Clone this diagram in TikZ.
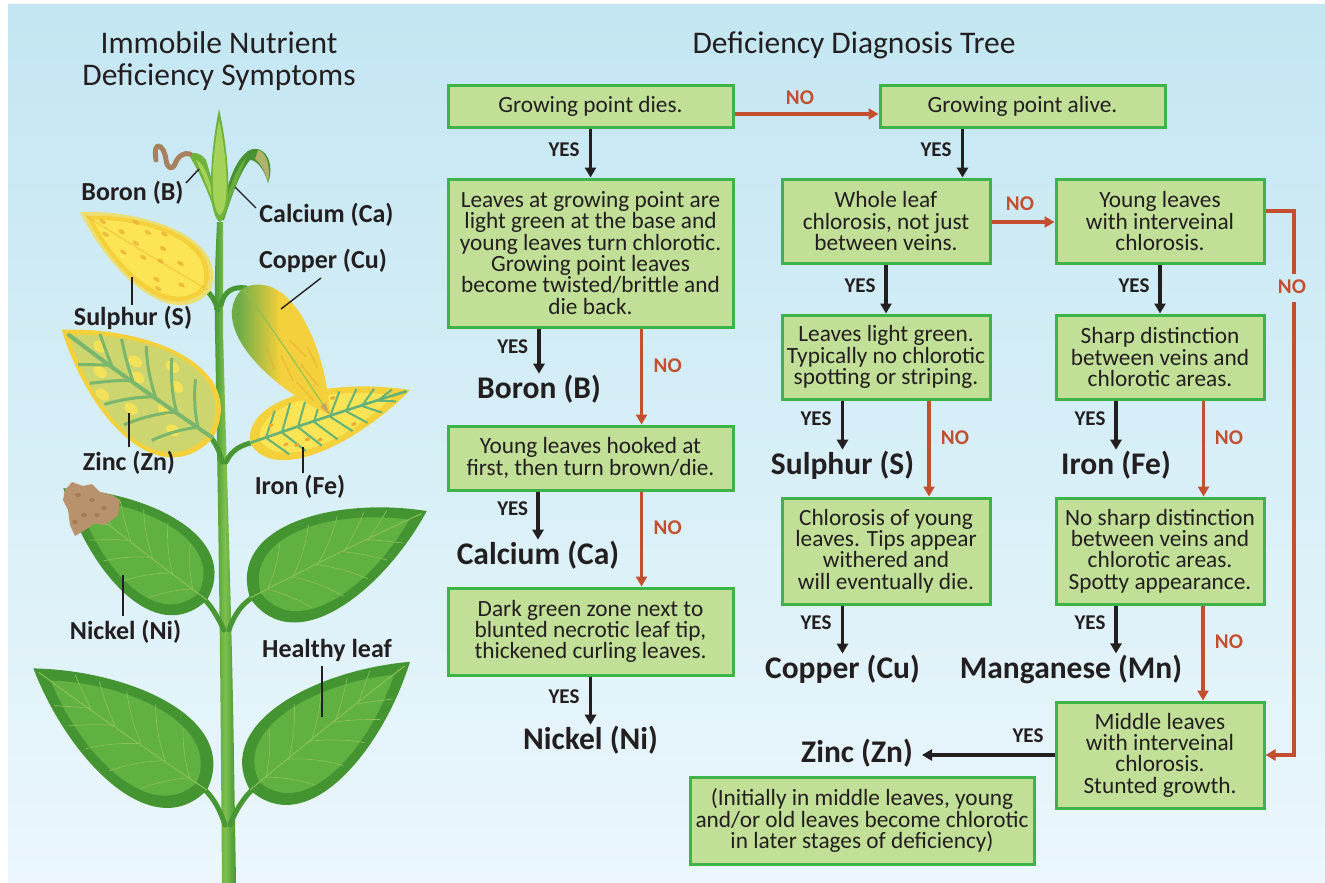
\documentclass[tikz,border=0pt]{standalone}
\usepackage{fontspec}
\setmainfont{Carlito}
\usetikzlibrary{arrows.meta,calc}

\definecolor{ink}{RGB}{35,31,32}
\definecolor{noclr}{RGB}{196,78,48}
\definecolor{boxfill}{RGB}{193,223,150}
\definecolor{boxline}{RGB}{60,180,74}
\definecolor{bgtop}{RGB}{195,230,242}
\definecolor{bgbot}{RGB}{235,247,252}
\definecolor{leafdk}{RGB}{68,148,50}
\definecolor{leafmd}{RGB}{96,176,66}
\definecolor{veinc}{RGB}{138,192,88}
\definecolor{stemdk}{RGB}{72,150,52}
\definecolor{stemlt}{RGB}{125,192,78}
\definecolor{ylw}{RGB}{244,208,58}
\definecolor{ylwlt}{RGB}{252,228,84}
\definecolor{ylwrim}{RGB}{236,222,112}
\definecolor{orng}{RGB}{232,172,52}
\definecolor{znvein}{RGB}{122,182,108}
\definecolor{znmid}{RGB}{205,214,110}
\definecolor{fevein}{RGB}{100,178,122}
\definecolor{mybrown}{RGB}{184,146,108}
\definecolor{mybrowndk}{RGB}{150,110,78}
\definecolor{ribbon}{RGB}{168,128,94}
\definecolor{tlgreen}{RGB}{110,180,58}
\definecolor{tllight}{RGB}{165,210,88}
\definecolor{cagreen}{RGB}{70,146,50}
\definecolor{calight}{RGB}{105,172,66}
\definecolor{catip}{RGB}{175,178,104}
\definecolor{cuG}{RGB}{110,172,72}
\definecolor{cuY}{RGB}{244,208,60}

\pgfdeclarehorizontalshading{cushade}{100bp}{color(0bp)=(cuG); color(38bp)=(cuG); color(55bp)=(cuY); color(100bp)=(cuY)}

\newcommand\leafOL{(0,0) .. controls (6,-46) and (62,-32) .. (100,0) .. controls (62,32) and (6,46) .. (0,0) -- cycle}
\newcommand\leafIN{(6,0) .. controls (12,-36) and (58,-26) .. (90,0) .. controls (58,26) and (12,36) .. (6,0) -- cycle}
\newcommand\leafMID{(3,0) .. controls (9,-42) and (60,-30) .. (95,0) .. controls (60,30) and (9,42) .. (3,0) -- cycle}
\newcommand\gveins{%
 \draw (10,0) .. controls (16,-6) and (22,-14) .. (26,-22);
 \draw (24,0) .. controls (31,-6) and (38,-15) .. (43,-24);
 \draw (38,0) .. controls (46,-6) and (53,-14) .. (58,-21);
 \draw (53,0) .. controls (60,-5) and (66,-11) .. (71,-16);
 \draw (67,0) .. controls (73,-4) and (78,-8) .. (82,-11);
}

\newcommand\boxfont{\fontsize{23.3}{21.3}\selectfont}
\newcommand\resfont{\fontsize{31.5}{34}\selectfont\bfseries}
\newcommand\labfont{\fontsize{21}{23}\selectfont\bfseries}
\newcommand\plfont{\fontsize{26}{28}\selectfont\bfseries}
\newcommand\ttlfont{\fontsize{31.5}{31.7}\selectfont}

\tikzset{
  pics/gleaf/.style={code={
    \fill[leafdk] \leafOL;
    \fill[leafmd] \leafIN;
    \begin{scope}[veinc, line width=0.7pt]
      \draw[line width=1pt] (0,0) .. controls (35,-1) and (70,-1) .. (97,0);
      \foreach \s in {1,-1}{\begin{scope}[yscale=\s]\gveins\end{scope}}
    \end{scope}
  }},
  pics/yleaf/.style={code={
    \fill[ylwrim] \leafOL;
    \fill[ylw] \leafMID;
    \fill[ylwlt] \leafIN;
    \foreach \p in {(18,-8),(26,7),(34,-15),(41,10),(49,-5),(55,15),(62,-10),(70,4),(30,-21),(45,21),(65,17),(78,-5),(38,0),(58,2),(84,3)}
      \fill[orng, opacity=.7] \p ellipse (2.4 and 1.6);
    \draw[orng, opacity=.5, line width=1pt] (2,0) .. controls (35,-1) and (70,-1) .. (95,0);
  }},
  pics/culeaf/.style={code={
    \shade[shading=cushade] \leafOL;
    \begin{scope}[orng, opacity=.6, line width=1.3pt]
      \draw (45,-8) -- (60,-12); \draw (50,6) -- (68,10); \draw (62,-4) -- (80,-6);
      \draw (70,8) -- (86,5); \draw (40,12) -- (55,18); \draw (55,-18) -- (70,-15);
    \end{scope}
    \draw[veinc, line width=1pt] (2,0) .. controls (35,-1) and (70,-1) .. (96,0);
    \fill[mybrown, opacity=.6] (92,-3) -- (100,0) -- (92,3) -- cycle;
  }},
  pics/znleaf/.style={code={
    \fill[ylw] \leafOL;
    \fill[znmid] \leafMID;
    \foreach \p in {(20,-10),(32,12),(45,-14),(58,10),(70,-7),(30,-3),(52,3),(78,5),(40,20),(62,-17)}
      \fill[ylwlt, opacity=.8] \p ellipse (4 and 3);
    \begin{scope}[znvein, line width=3pt]
      \draw[line width=4pt] (0,0) .. controls (35,-1) and (70,-1) .. (96,0);
      \foreach \s in {1,-1}{\begin{scope}[yscale=\s]\gveins\end{scope}}
    \end{scope}
  }},
  pics/feleaf/.style={code={
    \fill[ylw] \leafOL;
    \fill[ylwlt] \leafIN;
    \begin{scope}[fevein, line width=2pt]
      \draw[line width=2.6pt] (0,0) .. controls (35,-1) and (70,-1) .. (98,0);
      \foreach \s in {1,-1}{\begin{scope}[yscale=\s]
        \foreach \x/\h in {10/22,20/24,30/24,40/23,50/20,60/17,70/12,80/6}
          \draw (\x,0) -- ({\x+10},{-\h});
      \end{scope}}
    \end{scope}
    \foreach \p in {(20,12),(26,16),(33,14),(40,18),(15,-10),(55,-16),(62,14)}
      \fill[orng] \p circle (1.6);
  }},
  pics/tleaf/.style={code={
    \fill[tlgreen] \leafOL;
    \fill[tllight] \leafIN;
  }}
}

\begin{document}
\begin{tikzpicture}[x=1pt,y=-1pt,
  box/.style={draw=boxline, line width=3pt, fill=boxfill, text=ink, font=\boxfont, align=center, inner sep=0pt},
  res/.style={font=\resfont, text=ink, inner sep=1pt},
  ylab/.style={font=\labfont, text=ink, inner sep=0pt},
  nlab/.style={font=\labfont, text=noclr, inner sep=0pt},
  plab/.style={font=\plfont, text=ink, inner sep=0pt},
  ttl/.style={font=\ttlfont, text=ink, align=center, inner sep=0pt},
  yarr/.style={draw=ink, line width=3.7pt, -{Triangle[width=11pt,length=10pt]}},
  narr/.style={draw=noclr, line width=3.5pt, -{Triangle[width=11pt,length=10pt]}},
  nline/.style={draw=noclr, line width=3.5pt},
  lead/.style={draw=ink, line width=1.4pt},
  pet/.style={draw=stemdk, line width=5pt, line cap=round}]

\useasboundingbox (0,0) rectangle (1325,883);
\fill[white] (0,0) rectangle (1325,883);
\shade[top color=bgtop, bottom color=bgbot] (8,5) rectangle (1325,883);

% ---------- titles ----------
\node[ttl] (tl) at (219,61) {Immobile Nutrient\\Deficiency Symptoms};
\node[ttl] (tr) at (854,45) {Deficiency Diagnosis Tree};

% ---------- plant ----------
\shade[left color=stemdk, right color=stemdk, middle color=stemlt]
  (222,883) -- (221,760) .. controls (220,620) and (217,440) .. (215,330)
  .. controls (214,280) and (216,245) .. (217,222) -- (223,222)
  .. controls (223,250) and (223,290) .. (223,330)
  .. controls (226,450) and (232,620) .. (234,760) -- (236,883) -- cycle;

\draw[pet] (218,310) .. controls (214,298) and (210,292) .. (200,286);
\draw[pet] (221,305) .. controls (224,292) and (232,286) .. (246,288);
\draw[pet] (222,462) .. controls (220,452) and (216,444) .. (210,436);
\draw[pet] (226,462) .. controls (232,450) and (240,445) .. (255,442);
\draw[pet] (224,630) .. controls (218,618) and (212,606) .. (202,597);
\draw[pet] (229,630) .. controls (234,615) and (242,603) .. (255,596);
\draw[pet] (225,825) .. controls (220,810) and (214,798) .. (203,788);
\draw[pet] (230,825) .. controls (236,810) and (243,798) .. (255,787);

\pic[rotate=148.7, scale=1.52, yscale=0.78] at (210,291) {yleaf};
\pic[rotate=144.4, scale=1.86, yscale=0.92] at (213,438) {znleaf};
\pic[rotate=18.3, scale=1.685, yscale=0.62] at (250,443) {feleaf};
\pic[rotate=-55.6, scale=1.54, yscale=0.72] at (243,288) {culeaf};
\pic[rotate=142.1, scale=1.82, yscale=0.85] at (207,600) {gleaf};
\pic[rotate=26.2, scale=1.97, yscale=0.84] at (250,598) {gleaf};
\pic[rotate=145, scale=2.12, yscale=0.8] at (207,790) {gleaf};
\pic[rotate=38.7, scale=2.05, yscale=0.8] at (250,790) {gleaf};

% nickel necrotic tip
\fill[mybrown] (65,490) -- (72,482) -- (83,486) -- (92,484) -- (100,492) -- (112,495)
  -- (120,500) -- (118,515) -- (112,520) -- (103,525) -- (95,523) -- (85,530)
  -- (75,536) -- (70,525) -- (68,510) -- (63,500) -- cycle;
\foreach \p in {(78,495),(92,500),(104,508),(84,515),(75,522),(97,515)}
  \fill[mybrowndk, opacity=.6] \p ellipse (3 and 2);

% top leaves: boron (left), calcium (right), centre
\fill[tlgreen] (217,219) .. controls (210,196) and (200,172) .. (188,154)
  .. controls (195,151) and (202,154) .. (206,160)
  .. controls (212,180) and (218,200) .. (222,219) -- cycle;
\fill[tllight] (216,212) .. controls (210,192) and (203,175) .. (196,160)
  .. controls (201,162) and (204,168) .. (207,174)
  .. controls (212,190) and (216,202) .. (218,212) -- cycle;
\draw[ribbon, line width=5pt, line cap=round, line join=round]
  (190,154) .. controls (184,152) and (178,156) .. (175,164)
  .. controls (172,171) and (167,168) .. (166,160)
  .. controls (165,152) and (162,146) .. (158,146)
  .. controls (155,147) and (155,152) .. (156,160);
\fill[cagreen] (219,220) .. controls (226,195) and (230,165) .. (248,151)
  .. controls (258,145) and (268,152) .. (270,165)
  .. controls (271,172) and (270,178) .. (268,183)
  .. controls (265,172) and (258,160) .. (250,160)
  .. controls (240,172) and (232,195) .. (224,220) -- cycle;
\fill[calight] (223,212) .. controls (228,192) and (234,172) .. (246,158)
  .. controls (240,175) and (232,195) .. (226,212) -- cycle;
\fill[catip] (258,150) .. controls (266,152) and (271,165) .. (268,183)
  .. controls (265,172) and (261,163) .. (255,159) -- cycle;
\pic[rotate=90.5, scale=1.13, yscale=0.26] at (220,222) {tleaf};

% plant labels and leaders
\node[plab] (lB)  at (132.5,193) {Boron (B)};
\node[plab] (lCa) at (326.5,215) {Calcium (Ca)};
\node[plab] (lCu) at (323,261)   {Copper (Cu)};
\node[plab] (lS)  at (133,318)   {Sulphur (S)};
\node[plab] (lZn) at (129,463)   {Zinc (Zn)};
\node[plab] (lFe) at (300,487)   {Iron (Fe)};
\node[plab] (lNi) at (125.5,632) {Nickel (Ni)};
\node[plab] (lH)  at (327,650)   {Healthy leaf};

\coordinate (b1) at (186,183);  \coordinate (b2) at (199,169);
\coordinate (c1) at (256,208);  \coordinate (c2) at (235,187);
\coordinate (u1) at (321,278);  \coordinate (u2) at (281,309);
\coordinate (s1) at (132,305);  \coordinate (s2) at (132,277);
\coordinate (z1) at (129,447);  \coordinate (z2) at (129,413);
\coordinate (f1) at (303,473);  \coordinate (f2) at (303,447);
\coordinate (n1) at (123,616);  \coordinate (n2) at (123,575);
\coordinate (h1) at (322,666);  \coordinate (h2) at (322,717);
\draw[lead] (b1) -- (b2);
\draw[lead] (c1) -- (c2);
\draw[lead] (u1) -- (u2);
\draw[lead] (s1) -- (s2);
\draw[lead] (z1) -- (z2);
\draw[lead] (f1) -- (f2);
\draw[lead] (n1) -- (n2);
\draw[lead] (h1) -- (h2);

% ---------- flowchart boxes ----------
\node[box, minimum width=285pt, minimum height=42pt]  (B1) at (590.5,106) {Growing point dies.};
\node[box, minimum width=285pt, minimum height=148pt] (B2) at (590.5,253) {Leaves at growing point are\\light green at the base and\\young leaves turn chlorotic.\\Growing point leaves\\become twisted/brittle and\\die back.};
\node[box, minimum width=285pt, minimum height=64pt]  (B3) at (590.5,458) {Young leaves hooked at\\first, then turn brown/die.};
\node[box, minimum width=285pt, minimum height=87pt]  (B4) at (590.5,631.5) {Dark green zone next to\\blunted necrotic leaf tip,\\thickened curling leaves.};
\node[box, minimum width=285pt, minimum height=42pt]  (A1) at (1022.5,106) {Growing point alive.};
\node[box, minimum width=208pt, minimum height=84pt]  (W1) at (886,221) {Whole leaf\\chlorosis, not just\\between veins.};
\node[box, minimum width=208pt, minimum height=84pt]  (W2) at (886,357) {Leaves light green.\\Typically no chlorotic\\spotting or striping.};
\node[box, minimum width=208pt, minimum height=106pt] (W3) at (886,551) {Chlorosis of young\\leaves. Tips appear\\withered and\\will eventually die.};
\node[box, minimum width=208pt, minimum height=84pt]  (Y1) at (1160,221) {Young leaves\\with interveinal\\chlorosis.};
\node[box, minimum width=208pt, minimum height=84pt]  (Y2) at (1160,357) {Sharp distinction\\between veins and\\chlorotic areas.};
\node[box, minimum width=208pt, minimum height=106pt] (Y3) at (1160,551) {No sharp distinction\\between veins and\\chlorotic areas.\\Spotty appearance.};
\node[box, minimum width=208pt, minimum height=106pt] (Y4) at (1160,755) {Middle leaves\\with interveinal\\chlorosis.\\Stunted growth.};
\node[box, minimum width=344pt, minimum height=87pt]  (Z)  at (862,820.5) {(Initially in middle leaves, young\\and/or old leaves become chlorotic\\in later stages of deficiency)};

% ---------- results ----------
\node[res] (rB)  at (539,389)   {Boron (B)};
\node[res] (rCa) at (538,555)   {Calcium (Ca)};
\node[res] (rNi) at (590.5,740) {Nickel (Ni)};
\node[res] (rS)  at (842.5,465) {Sulphur (S)};
\node[res] (rCu) at (842.5,669) {Copper (Cu)};
\node[res] (rFe) at (1116,465)  {Iron (Fe)};
\node[res] (rMn) at (1071,669)  {Manganese (Mn)};
\node[res] (rZn) at (857,753)   {Zinc (Zn)};

% ---------- connectors ----------
\draw[narr] ($(B1.east)+(0,8)$) -- ($(A1.west)+(0,8)$);
\draw[yarr] (B1.south) -- (B2.north);
\draw[yarr] (B2.south -| rB.north) -- (rB.north);
\draw[narr] ($(B2.south)+(51,0)$) -- ($(B3.north)+(51,0)$);
\draw[yarr] (B3.south -| rCa.north) -- (rCa.north);
\draw[narr] ($(B3.south)+(51,0)$) -- ($(B4.north)+(51,0)$);
\draw[yarr] (B4.south) -- (rNi.north);

\coordinate (a1x) at ($(A1.south)+(-60,0)$);
\draw[yarr] (a1x) -- (a1x |- W1.north);
\draw[narr] ($(W1.east)+(0,1)$) -- ($(Y1.west)+(0,1)$);
\draw[yarr] (W1.south) -- (W2.north);
\draw[yarr] (W2.south -| rS.north) -- (rS.north);
\draw[narr] ($(W2.south)+(43,0)$) -- ($(W3.north)+(43,0)$);
\draw[yarr] (W3.south -| rCu.north) -- (rCu.north);

\draw[yarr] (Y1.south) -- (Y2.north);
\draw[yarr] (Y2.south -| rFe.north) -- (rFe.north);
\draw[narr] ($(Y2.south)+(43.5,0)$) -- ($(Y3.north)+(43.5,0)$);
\coordinate (mnx) at ($(Y3.south)+(-44,0)$);
\draw[yarr] (mnx) -- (mnx |- rMn.north);
\draw[narr] ($(Y3.south)+(43,0)$) -- ($(Y4.north)+(43,0)$);

\coordinate (r1) at (1294,211);
\coordinate (r2) at (1294,274);
\coordinate (r3) at (1294,302);
\coordinate (r4) at (1294,755);
\draw[nline] (Y1.east |- r1) -- (r1) -- (r2);
\draw[narr] (r3) -- (r4) -- (Y4.east |- r4);
\draw[yarr, shorten >=8pt] (Y4.west) -- (Y4.west -| rZn.east);

% ---------- YES / NO labels ----------
\node[nlab] (n1) at (800,98)   {NO};
\node[ylab] (y1) at (564,150)  {YES};
\node[ylab] (y2) at (512.7,347) {YES};
\node[nlab] (n2) at (667.7,366) {NO};
\node[ylab] (y3) at (512.7,509) {YES};
\node[nlab] (n3) at (667.7,528) {NO};
\node[ylab] (y4) at (564,697)  {YES};
\node[ylab] (y5) at (936,150)  {YES};
\node[nlab] (n4) at (1020,204) {NO};
\node[ylab] (y6) at (860,286)  {YES};
\node[ylab] (y7) at (816,419)  {YES};
\node[nlab] (n5) at (955,438)  {NO};
\node[ylab] (y8) at (816,623)  {YES};
\node[ylab] (y9) at (1134,286) {YES};
\node[ylab] (y10) at (1090,419) {YES};
\node[nlab] (n6) at (1229,438) {NO};
\node[ylab] (y11) at (1090,623) {YES};
\node[nlab] (n7) at (1229,642) {NO};
\node[nlab] (n8) at (1292,287) {NO};
\node[ylab] (y12) at (1028,736) {YES};

\end{tikzpicture}
\end{document}
